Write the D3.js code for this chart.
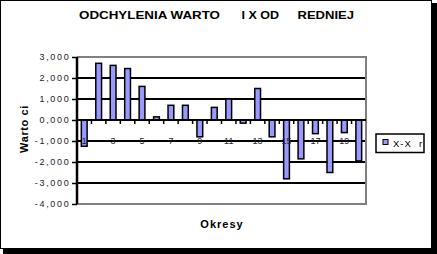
<!DOCTYPE html>
<html><head><meta charset="utf-8">
<script src="https://cdn.jsdelivr.net/npm/d3@7/dist/d3.min.js"></script>
<style>
html,body{margin:0;padding:0;background:#fff;}
svg{display:block;}
text{font-family:"Liberation Sans",Arial,sans-serif;white-space:pre;}
</style></head>
<body>
<svg id="c" width="437" height="254"></svg>
<script>
const categories = ["1","2","3","4","5","6","7","8","9","10","11","12","13","14","15","16","17","18","19","20"];
const values = [-1.25, 2.70, 2.60, 2.45, 1.60, 0.15, 0.70, 0.70, -0.80, 0.60, 1.00, -0.15, 1.50, -0.80, -2.80, -1.85, -0.65, -2.50, -0.60, -1.95];
const yTicks = [-4, -3, -2, -1, 0, 1, 2, 3];
const yTickLabels = ["-4,000","-3,000","-2,000","-1,000","0,000","1,000","2,000","3,000"];
const xTickLabels = ["1","","3","","5","","7","","9","","11","","13","","15","","17","","19",""];
const seriesName = "X-X  r";
const titleParts = ["ODCHYLENIA WARTO    ", "I X OD    ", "REDNIEJ"];
const yTitle = "Warto ci";
const xTitle = "Okresy";

const svg = d3.select("#c");
// frame with shadow
svg.append("rect").attr("x",3).attr("y",3).attr("width",434).attr("height",251).attr("fill","#000");
svg.append("rect").attr("x",0.5).attr("y",0.5).attr("width",431).attr("height",248).attr("fill","#fff").attr("stroke","#000").attr("stroke-width",1);

const L=77, R=366, T=57, B=204;
const x = d3.scaleBand().domain(categories).range([L,R]).paddingInner(0.6).paddingOuter(0.3);
const xb = d3.scaleBand().domain(categories).range([L,R]);
const y = d3.scaleLinear().domain([-4,3]).range([B,T]);

// gridlines
svg.append("g").selectAll("line").data(yTicks.filter(d=>d!==-4 && d!==3)).join("line")
  .attr("x1",L).attr("x2",R).attr("y1",d=>y(d)).attr("y2",d=>y(d))
  .attr("stroke","#000").attr("stroke-width",2);
// plot border gray (top, right, bottom)
svg.append("path").attr("d",`M${L},${T}H${R}V${B}H${L}`).attr("fill","none").attr("stroke","#808080").attr("stroke-width",2);

// bars
svg.append("g").selectAll("rect").data(values).join("rect")
  .attr("x",(d,i)=>x(categories[i])).attr("width",x.bandwidth())
  .attr("y",d=>y(Math.max(0,d))).attr("height",d=>Math.abs(y(d)-y(0)))
  .attr("fill","#9999FF").attr("stroke","#000").attr("stroke-width",1.5);

// x axis line at zero with ticks at category boundaries
svg.append("line").attr("x1",L).attr("x2",R).attr("y1",y(0)).attr("y2",y(0)).attr("stroke","#000").attr("stroke-width",2);
svg.append("g").selectAll("line").data(categories.slice(1)).join("line")
  .attr("x1",d=>xb(d)).attr("x2",d=>xb(d)).attr("y1",y(0)).attr("y2",y(0)+4)
  .attr("stroke","#000").attr("stroke-width",1.5);

// x tick labels (drawn over bars)
svg.append("g").selectAll("text").data(categories).join("text")
  .attr("x",d=>xb(d)+xb.bandwidth()/2).attr("y",y(-1)+2.5)
  .attr("text-anchor","middle").attr("font-size",9).attr("fill","#222")
  .text((d,i)=>xTickLabels[i]);

// y axis
const yAxis = d3.axisLeft(y).tickValues(yTicks).tickSize(5).tickFormat((d,i)=>yTickLabels[i]);
const ga = svg.append("g").attr("transform",`translate(${L},0)`).call(yAxis);
ga.select(".domain").attr("stroke","#000").attr("stroke-width",2.5).attr("d",`M0,${T}V${B}`);
ga.selectAll(".tick line").attr("stroke","#000").attr("stroke-width",1.5);
ga.selectAll(".tick text").attr("x",-6.5).attr("font-size",9).attr("letter-spacing","1.7px").attr("fill","#222")
  .attr("font-family","Liberation Sans, Arial, sans-serif");

// title: three pieces, stretched horizontally like the original rendering
const tt = svg.append("text").attr("y",19).attr("font-size",11).attr("font-weight","bold");
const tX = [79, 241.5, 297.5], tW = [141, 37.5, 56.5];
titleParts.forEach((p,i)=>{
  tt.append("tspan").attr("x",tX[i]).text(p);
});
tt.selectAll("tspan").each(function(d,i){
  const trimmed = titleParts[i].replace(/\s+$/,"");
  const nTrail = titleParts[i].length - trimmed.length;
  // only the visible part is stretched; trailing spaces are harmless (next tspan resets x)
  const el = d3.select(this);
  el.text(trimmed);
  el.attr("textLength",tW[i]).attr("lengthAdjust","spacingAndGlyphs");
  if(nTrail>0) tt.insert("tspan", () => this.nextSibling).text(" ".repeat(nTrail));
});

svg.append("text").attr("transform","translate(28,129) rotate(-90)").attr("text-anchor","middle")
  .attr("font-size",11).attr("font-weight","bold").attr("letter-spacing","0.6px").text(yTitle);
svg.append("text").attr("x",222).attr("y",228).attr("text-anchor","middle")
  .attr("font-size",11).attr("font-weight","bold").attr("letter-spacing","1px").text(xTitle);

// legend
const lg = svg.append("g");
lg.append("rect").attr("x",376).attr("y",134).attr("width",48).attr("height",18.5).attr("fill","#fff").attr("stroke","#000").attr("stroke-width",1.5);
lg.append("rect").attr("x",383).attr("y",139.5).attr("width",5).attr("height",5).attr("fill","#9999FF").attr("stroke","#000").attr("stroke-width",1);
lg.append("text").attr("x",393).attr("y",146.8).attr("font-size",9.5).attr("letter-spacing","1px").text(seriesName);
</script>
</body></html>
